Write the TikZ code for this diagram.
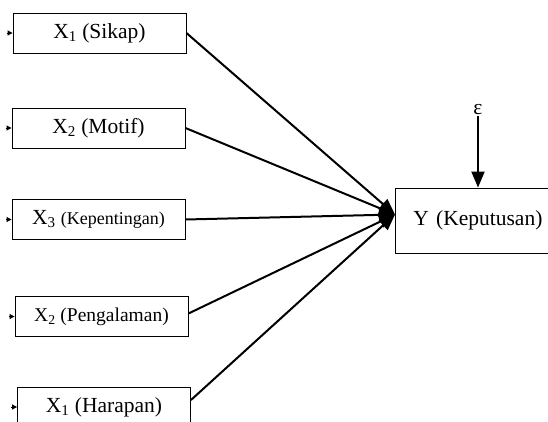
\documentclass[tikz,border=0pt]{standalone}
\usepackage{fontspec}
\setmainfont{Liberation Serif}
\usetikzlibrary{arrows.meta,calc}

\begin{document}
\begin{tikzpicture}[
    x=1pt, y=-1pt,
    varbox/.style={
      rectangle,
      draw,
      line width=0.9pt,
      minimum width=173pt,
      minimum height=40pt,
      inner sep=0pt,
      font=\fontsize{21.5}{24}\selectfont,
      anchor=center
    },
    path/.style={line width=2pt, -{Triangle[length=16pt,width=13pt]}},
    stub/.style={line width=1pt, -{Triangle[length=5pt,width=5pt]}}
  ]
  \useasboundingbox (0,0) rectangle (548,421);
  \clip (0,0) rectangle (548,421);
  % independent variables
  \node[varbox] (s1) at (99.5,33) {X\textsubscript{1} (Sikap)};
  \node[varbox] (s2) at (98.5,128) {X\textsubscript{2} (Motif)};
  \node[varbox] (s3) at (98.5,219.5) {X\textsubscript{3} {\fontsize{18}{20}\selectfont(Kepentingan)}};
  \node[varbox] (s4) at (101.5,316.5) {{\fontsize{19.5}{22}\selectfont X\textsubscript{2} (Pengalaman)}};
  \node[varbox] (s5) at (104,407) {X\textsubscript{1} (Harapan)};
  % dependent variable
  \node[varbox, anchor=west, minimum width=200pt, minimum height=65pt,
        inner xsep=18pt, text width=164pt, align=left] (y) at (395,220.5) {Y (Keputusan)};
  \node[font=\fontsize{21.5}{24}\selectfont, inner sep=1pt] (eps) at (478,110) {ε};
  % small marks at the left
  \foreach \i in {1,...,5} {
    \coordinate (m\i) at ($(s\i.west)+(-6,0)$);
    \draw[stub] (m\i) -- (s\i.west);
  }
  \coordinate (tip) at ($(y.west)+(0,-6)$);
  \draw[path] (s1.east) -- (tip);
  \draw[path] (s2.east) -- (tip);
  \draw[path] (s3.east) -- (tip);
  \draw[path] ($(s4.east)+(0,-3)$) -- (tip);
  \draw[path] ($(s5.east)+(0,-7)$) -- (tip);
  \draw[path] (eps) -- (y.north -| eps);
\end{tikzpicture}
\end{document}
